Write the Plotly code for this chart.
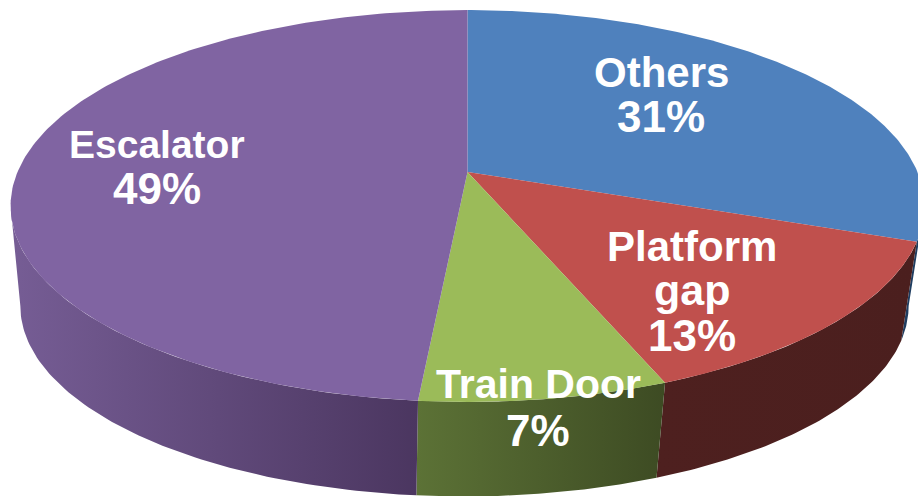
import numpy as np
import plotly.graph_objects as go

# Data, clockwise from 12 o'clock
categories = ["Others", "Platform gap", "Train Door", "Escalator"]
values = [30.6, 13.4, 7.45, 48.55]
top_colors = ["#4f81bd", "#c0504d", "#9bbb59", "#8064a2"]
side_colors = [
    ["#1f3d60", "#1f3d60"],
    ["#4e201f", "#4b1f1e"],
    ["#5c7236", "#3d4b23"],
    ["#765d95", "#4b3660"],
]
label_lines = [["Others"], ["Platform", "gap"], ["Train Door"], ["Escalator"]]
label_sizes = [[42], [42, 43], [41], [39]]
percent_size = 44
label_x = [661, 692, 538, 157]
label_y = [[72, 116], [246, 290, 335], [384, 430], [144, 188]]

# Pie tilt geometry, in axis units of a 918x496 canvas
CX, CY = 467.5, 172
RX, RY, K = 450, 190, 0.1736
BOTTOM_SCALE, BOTTOM_DROP, BOTTOM_SHIFT = 0.972, 101, -3
TANGENT = np.degrees(np.arccos(-K))


def rim(deg, bottom=False):
    t = np.radians(np.asarray(deg, dtype=float))
    X, Y = np.sin(t), -np.cos(t)
    w = 1 - K * Y
    sx, sy = RX * X / w, RY * Y / w
    if bottom:
        return CX + BOTTOM_SHIFT + sx * BOTTOM_SCALE, CY + BOTTOM_DROP + sy * BOTTOM_SCALE
    return CX + sx, CY + sy


edges = np.concatenate([[0], np.cumsum(values)]) * 3.6
fig = go.Figure()

# Side walls (only the part that faces the viewer)
for i in range(len(values)):
    a = max(edges[i], TANGENT)
    b = min(edges[i + 1], 360 - TANGENT)
    if b <= a:
        continue
    arc = np.linspace(a, b, 80)
    tx, ty = rim(arc)
    bx, by = rim(arc[::-1], bottom=True)
    fig.add_trace(go.Scatter(
        x=np.concatenate([tx, bx]), y=np.concatenate([ty, by]),
        mode="lines", line=dict(width=0), fill="toself",
        fillgradient=dict(type="horizontal",
                          colorscale=[[0, side_colors[i][0]], [1, side_colors[i][1]]]),
        hoverinfo="skip", showlegend=False,
    ))

# Top faces
for i, name in enumerate(categories):
    arc = np.linspace(edges[i], edges[i + 1], 200)
    tx, ty = rim(arc)
    fig.add_trace(go.Scatter(
        x=np.concatenate([[CX], tx, [CX]]), y=np.concatenate([[CY], ty, [CY]]),
        mode="lines", line=dict(width=0), fill="toself", fillcolor=top_colors[i],
        name=name, hoverinfo="name", showlegend=False,
    ))

# Labels, one annotation per text line
annotations = []
for i, lines in enumerate(label_lines):
    texts = lines + [f"{round(values[i])}%"]
    sizes = label_sizes[i] + [percent_size]
    for text, y, size in zip(texts, label_y[i], sizes):
        annotations.append(dict(
            x=label_x[i], y=y, text=f"<b>{text}</b>", showarrow=False,
            xanchor="center", yanchor="middle",
            font=dict(family="Liberation Sans, Arial, sans-serif", size=size, color="white"),
        ))

fig.update_layout(
    width=918, height=496, margin=dict(l=0, r=0, t=0, b=0),
    paper_bgcolor="white", plot_bgcolor="white",
    xaxis=dict(range=[0, 918], visible=False, fixedrange=True),
    yaxis=dict(range=[496, 0], visible=False, fixedrange=True),
    annotations=annotations,
)
fig.write_html("out.html", config=dict(displayModeBar=False),
               post_script="document.body.style.margin='0';document.body.style.overflow='hidden';")
